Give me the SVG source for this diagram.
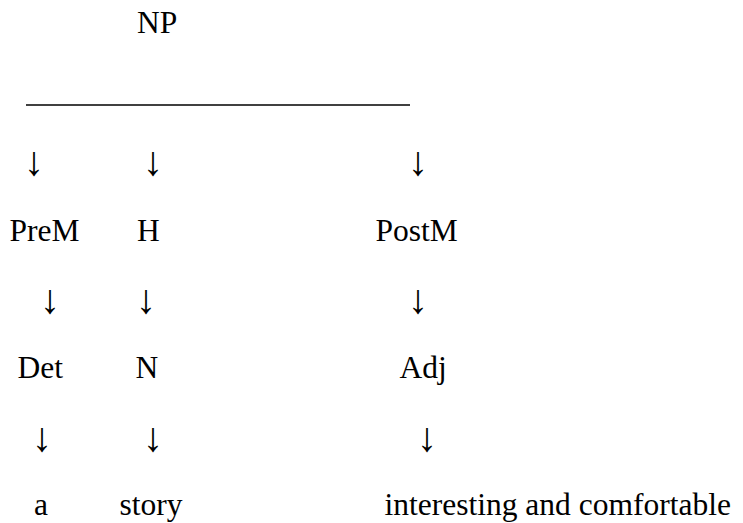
<svg xmlns="http://www.w3.org/2000/svg" width="743" height="523" viewBox="0 0 743 523">
<style>
text{font-family:"Liberation Serif","Times New Roman",serif;font-size:31.5px;fill:#000}
.ar{text-anchor:middle;font-size:41px}
</style>
<rect width="743" height="523" fill="#fff"/>
<g id="connectors">
<line x1="26" y1="105" x2="410" y2="105" stroke="#000" stroke-width="1.6"/>
<text class="ar" x="34" y="174.5">↓</text>
<text class="ar" x="153" y="174.5">↓</text>
<text class="ar" x="418" y="174.5">↓</text>
<text class="ar" x="50" y="312.5">↓</text>
<text class="ar" x="146" y="312.5">↓</text>
<text class="ar" x="418" y="312.5">↓</text>
<text class="ar" x="42" y="450.5">↓</text>
<text class="ar" x="153" y="450.5">↓</text>
<text class="ar" x="427" y="450.5">↓</text>
</g>
<g id="np"><text x="137" y="33">NP</text></g>
<g id="prem"><text x="9.5" y="241">PreM</text></g>
<g id="h"><text x="137" y="241">H</text></g>
<g id="postm"><text x="375.5" y="241">PostM</text></g>
<g id="det"><text x="17.5" y="378">Det</text></g>
<g id="n"><text x="135.5" y="378">N</text></g>
<g id="adj"><text x="399.5" y="378">Adj</text></g>
<g id="a"><text x="34" y="515">a</text></g>
<g id="story"><text x="119.5" y="515">story</text></g>
<g id="adjtext"><text x="384.5" y="515">interesting and comfortable</text></g>
</svg>
